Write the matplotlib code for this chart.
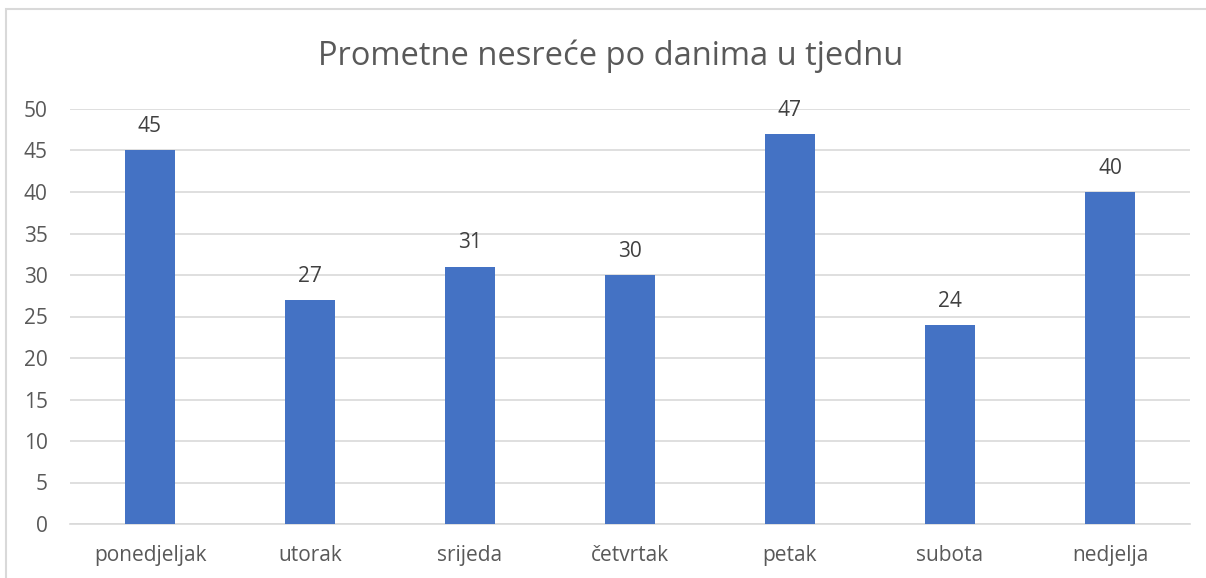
import matplotlib.pyplot as plt
from matplotlib.patches import Rectangle

# data
days   = ["ponedjeljak", "utorak", "srijeda", "četvrtak", "petak", "subota", "nedjelja"]
counts = [45, 27, 31, 30, 47, 24, 40]
yticks = [0, 5, 10, 15, 20, 25, 30, 35, 40, 45, 50]

txtc = "#595959"
plt.rcParams['font.family'] = ['Open Sans', 'DejaVu Sans']

fig = plt.figure(figsize=(12.06, 5.78), dpi=100)
ax = fig.add_axes([70/1206, 1-524/578, 1120/1206, (524-109)/578])

# outer chart border (clipped at right and bottom like the screenshot)
fig.patches.append(Rectangle((6/1206, -0.05), 1.1, 1-9/578+0.05, transform=fig.transFigure,
                             fill=False, edgecolor="#D9D9D9", lw=1.5))

x = range(len(days))
bars = ax.bar(x, counts, width=0.31, color="#4472C4", zorder=3)
for b, v in zip(bars, counts):
    ax.text(b.get_x()+b.get_width()/2, v+1.6, str(v), ha="center", va="bottom",
            fontsize=15, color="#404040")

ax.set_xlim(-0.5, len(days)-0.5)
ax.set_ylim(0, 50)
ax.set_yticks(yticks)
ax.set_xticks(list(x))
ax.set_xticklabels(days)
ax.grid(axis="y", color="#D9D9D9", lw=1.2, zorder=0)
for s in ["top", "right", "left"]:
    ax.spines[s].set_visible(False)
ax.spines["bottom"].set_color("#D9D9D9")
ax.spines["bottom"].set_linewidth(1.2)
ax.tick_params(length=0, labelsize=15, labelcolor=txtc)
ax.tick_params(axis="y", pad=16)
ax.tick_params(axis="x", pad=15)

fig.text(611/1206, 1-56/578, "Prometne nesreće po danima u tjednu", ha="center", va="center",
         fontsize=23.5, color=txtc)

fig.savefig("out.png", dpi=100)
